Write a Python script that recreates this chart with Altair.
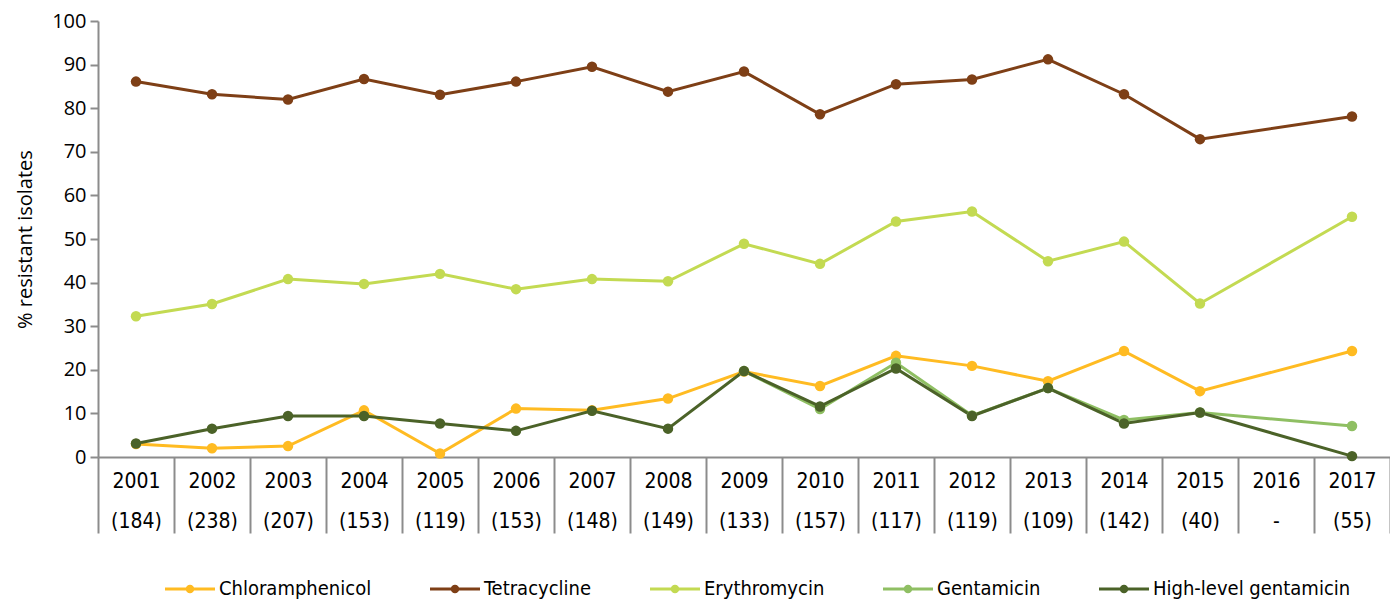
import altair as alt
import pandas as pd

years = ["2001", "2002", "2003", "2004", "2005", "2006", "2007", "2008", "2009",
         "2010", "2011", "2012", "2013", "2014", "2015", "2016", "2017"]
n_tested = ["(184)", "(238)", "(207)", "(153)", "(119)", "(153)", "(148)", "(149)", "(133)",
            "(157)", "(117)", "(119)", "(109)", "(142)", "(40)", "-", "(55)"]

series_names = ["Chloramphenicol", "Tetracycline", "Erythromycin", "Gentamicin",
                "High-level gentamicin"]
series_colors = ["#FFBB22", "#7E3F16", "#C3DA52", "#8FBF63", "#4B6228"]

chloramphenicol = [3.0, 2.0, 2.5, 10.7, 0.8, 11.1, 10.7, 13.4, 19.6, 16.3, 23.2, 20.9,
                   17.4, 24.3, 15.1, None, 24.3]
tetracycline = [86.1, 83.2, 82.0, 86.7, 83.1, 86.1, 89.5, 83.8, 88.4, 78.6, 85.5, 86.6,
                91.2, 83.2, 72.9, None, 78.1]
erythromycin = [32.3, 35.1, 40.8, 39.7, 42.0, 38.5, 40.8, 40.3, 48.9, 44.3, 54.0, 56.3,
                44.9, 49.4, 35.2, None, 55.1]
gentamicin = [None, None, None, None, None, None, None, None, 19.7, 11.0, 21.6, 9.5,
              15.8, 8.5, 10.2, None, 7.1]
high_level_gentamicin = [3.1, 6.5, 9.4, 9.4, 7.7, 6.0, 10.6, 6.5, 19.7, 11.6, 20.3, 9.4,
                         15.8, 7.7, 10.2, None, 0.2]

series_values = [chloramphenicol, tetracycline, erythromycin, gentamicin, high_level_gentamicin]

x_labels = [f"{y}|{n}" for y, n in zip(years, n_tested)]

rows = []
for name, vals in zip(series_names, series_values):
    for lab, v in zip(x_labels, vals):
        if v is not None:
            rows.append({"label": lab, "series": name, "value": v})
df = pd.DataFrame(rows)

narrow_font = "DejaVu Sans Condensed, Liberation Sans Narrow, Roboto Condensed, sans-serif"
axis_font = "Open Sans, Noto Sans, sans-serif"
grey = "#8C8C8C"

x_enc = alt.X(
    "label:O",
    scale=alt.Scale(type="band", domain=x_labels, paddingInner=0, paddingOuter=0),
    axis=alt.Axis(
        title=None,
        labelExpr="split(datum.label, '|')",
        tickBand="extent",
        tickSize=76,
        tickWidth=2,
        tickColor=grey,
        domainColor=grey,
        domainWidth=2,
        labelPadding=-52,
        labelBaseline="middle",
        labelLineHeight=40,
        labelFont=narrow_font,
        labelFontSize=21,
        labelColor="#000000",
        labelAngle=0,
        labelOverlap=False,
        labelFlush=False,
        labelBound=False,
    ),
)

y_enc = alt.Y(
    "value:Q",
    scale=alt.Scale(domain=[0, 100], nice=False),
    axis=alt.Axis(
        title="% resistant isolates",
        values=list(range(0, 101, 10)),
        grid=False,
        tickSize=8,
        tickWidth=2,
        tickColor=grey,
        domainColor=grey,
        domainWidth=2,
        labelFont=axis_font,
        labelFontSize=20,
        labelColor="#000000",
        labelPadding=4,
        titleFont=axis_font,
        titleFontSize=20,
        titleFontWeight="normal",
        titleColor="#000000",
        titlePadding=16,
    ),
)

legend_symbol = ("M-1,-0.06L1,-0.06L1,0.06L-1,0.06Z "
                 "M-0.17,0A0.17,0.17 0 1,1 0.17,0A0.17,0.17 0 1,1 -0.17,0Z")

legend = alt.Legend(
    title=None,
    orient="none",
    legendX=67,
    legendY=543,
    direction="horizontal",
    columns=5,
    columnPadding=58,
    symbolType=legend_symbol,
    symbolSize=2500,
    symbolStrokeWidth=0,
    labelFont=narrow_font,
    labelFontSize=20,
    labelColor="#000000",
    labelOffset=4,
    labelLimit=400,
)

color_enc = alt.Color("series:N", scale=alt.Scale(domain=series_names, range=series_colors),
                      legend=legend)

lines = alt.Chart(df).mark_line(strokeWidth=3).encode(
    x=x_enc,
    y=y_enc,
    color=color_enc,
)

points = alt.Chart(df).mark_circle(size=110, opacity=1).encode(
    x=x_enc,
    y=y_enc,
    color=color_enc,
)

chart = (
    alt.layer(lines, points)
    .properties(
        width=1292,
        height=436,
        padding={"left": 90, "top": 13, "right": 0, "bottom": 145},
        autosize="none",
    )
    .configure_view(stroke=None)
)

chart.save("out.html", embed_options={"renderer": "svg", "actions": False})
